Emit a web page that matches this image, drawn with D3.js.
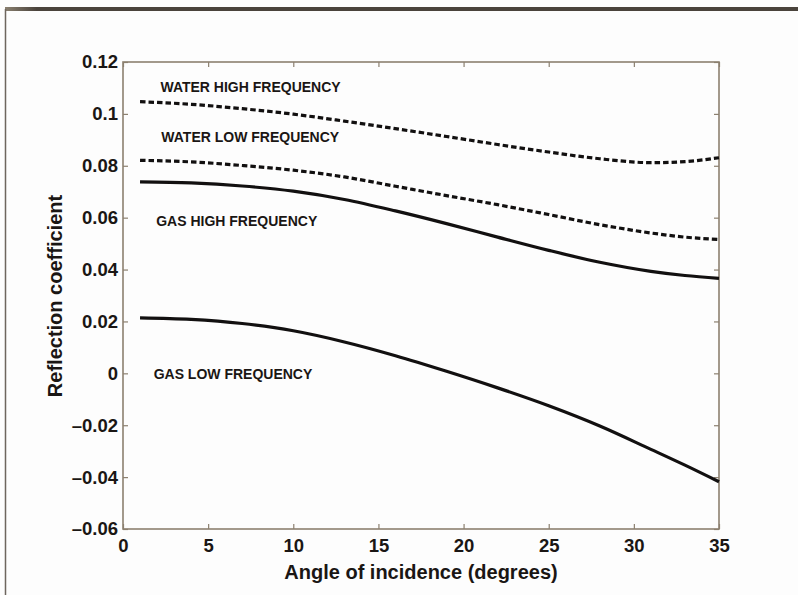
<!DOCTYPE html>
<html>
<head>
<meta charset="utf-8">
<script src="https://cdn.jsdelivr.net/npm/d3@7"></script>
<style>
  html, body { margin: 0; padding: 0; background: #fdfdfd; }
  svg { display: block; }
  text { font-family: "Liberation Sans", Arial, Helvetica, sans-serif; font-weight: bold; fill: #1a1614; }
</style>
</head>
<body>
<svg id="chart" width="798" height="595"></svg>
<script>
// Angle of incidence (degrees) sampled for every curve
const angles = [1, 4, 7, 10, 13, 16, 19, 22, 25, 28, 31, 33, 35];

// Reflection coefficient per case
const waterHigh = [0.1047, 0.1037, 0.1020, 0.0999, 0.0972, 0.0943, 0.0913, 0.0882, 0.0853, 0.0827, 0.0812, 0.0816, 0.0831];
const waterLow  = [0.0821, 0.0815, 0.0801, 0.0783, 0.0757, 0.0721, 0.0685, 0.0650, 0.0612, 0.0573, 0.0541, 0.0525, 0.0516];
const gasHigh   = [0.0738, 0.0734, 0.0722, 0.0702, 0.0670, 0.0626, 0.0577, 0.0525, 0.0474, 0.0428, 0.0393, 0.0377, 0.0366];
const gasLow    = [0.0214, 0.0208, 0.0192, 0.0164, 0.0121, 0.0068, 0.0008, -0.0056, -0.0125, -0.0203, -0.0293, -0.0354, -0.0418];

const seriesNames = ["WATER HIGH FREQUENCY", "WATER LOW FREQUENCY", "GAS HIGH FREQUENCY", "GAS LOW FREQUENCY"];
const seriesValues = [waterHigh, waterLow, gasHigh, gasLow];
const seriesDashed = [true, true, false, false];
// label anchor (angle, coefficient) for each curve's caption
const labelAngle = [2.2, 2.25, 1.95, 1.8];
const labelValue = [0.1105, 0.0910, 0.0588, -0.0003];

const xTicks = [0, 5, 10, 15, 20, 25, 30, 35];
const yTicks = [-0.06, -0.04, -0.02, 0, 0.02, 0.04, 0.06, 0.08, 0.1, 0.12];

const svg = d3.select("#chart");
const W = 798, H = 595;
const m = { left: 123, right: 719, top: 62, bottom: 529 };

// page frame
svg.append("rect").attr("x", 0).attr("y", 0).attr("width", W).attr("height", H).attr("fill", "#fdfdfd");
const grad = svg.append("defs").append("linearGradient").attr("id", "topbar").attr("x1", 0).attr("x2", 1);
grad.append("stop").attr("offset", "0").attr("stop-color", "#8a8070");
grad.append("stop").attr("offset", "0.04").attr("stop-color", "#4a433c");
grad.append("stop").attr("offset", "1").attr("stop-color", "#4a433c");
svg.append("rect").attr("x", 5).attr("y", 7).attr("width", W - 5).attr("height", 4).attr("fill", "url(#topbar)");
svg.append("line").attr("x1", 5.5).attr("x2", 5.5).attr("y1", 9).attr("y2", H)
  .attr("stroke", "#6e665e").attr("stroke-width", 1.5);

const x = d3.scaleLinear().domain([0, 35]).range([m.left, m.right]);
const y = d3.scaleLinear().domain([-0.06, 0.12]).range([m.bottom, m.top]);

const axisColor = "#8c8070";
const fmt = v => v === 0 ? "0" : String(+v.toFixed(2)).replace("-", "\u2013");

function styleAxis(g, showLabels) {
  g.select(".domain").remove();
  g.selectAll(".tick line").attr("stroke", axisColor).attr("stroke-width", 1.2);
  g.selectAll(".tick text").style("font-size", "18.5px").attr("fill", "#1a1614")
    .style("display", showLabels ? null : "none");
}

// bottom / left axes with labels, ticks pointing inward
svg.append("g").attr("transform", `translate(0,${m.bottom})`)
  .call(d3.axisBottom(x).tickValues(xTicks).tickSize(-5).tickPadding(10).tickFormat(d => d))
  .call(g => styleAxis(g, true));
svg.append("g").attr("transform", `translate(${m.left},0)`)
  .call(d3.axisLeft(y).tickValues(yTicks).tickSize(-5).tickPadding(5).tickFormat(fmt))
  .call(g => styleAxis(g, true));
// mirrored ticks on top / right
svg.append("g").attr("transform", `translate(0,${m.top})`)
  .call(d3.axisTop(x).tickValues(xTicks).tickSize(-5).tickFormat(""))
  .call(g => styleAxis(g, false));
svg.append("g").attr("transform", `translate(${m.right},0)`)
  .call(d3.axisRight(y).tickValues(yTicks).tickSize(-5).tickFormat(""))
  .call(g => styleAxis(g, false));

// plot box
svg.append("rect").attr("x", m.left).attr("y", m.top)
  .attr("width", m.right - m.left).attr("height", m.bottom - m.top)
  .attr("fill", "none").attr("stroke", axisColor).attr("stroke-width", 1.6);

// curves
const line = d3.line().x(d => x(d[0])).y(d => y(d[1])).curve(d3.curveMonotoneX);
seriesValues.forEach((vals, i) => {
  svg.append("path")
    .datum(angles.map((a, k) => [a, vals[k]]))
    .attr("d", line)
    .attr("fill", "none")
    .attr("stroke", "#121010")
    .attr("stroke-width", 3.2)
    .attr("stroke-dasharray", seriesDashed[i] ? "5.5,3" : null);
});

// curve captions
seriesNames.forEach((name, i) => {
  svg.append("text")
    .attr("x", x(labelAngle[i]))
    .attr("y", y(labelValue[i]))
    .attr("dy", "0.35em")
    .style("font-size", "14px")
    .text(name);
});

// axis titles
svg.append("text")
  .attr("x", (m.left + m.right) / 2)
  .attr("y", 579)
  .attr("text-anchor", "middle")
  .style("font-size", "20px")
  .text("Angle of incidence (degrees)");
svg.append("text")
  .attr("transform", `translate(62,296) rotate(-90)`)
  .attr("text-anchor", "middle")
  .style("font-size", "20px")
  .text("Reflection coefficient");
</script>
</body>
</html>
